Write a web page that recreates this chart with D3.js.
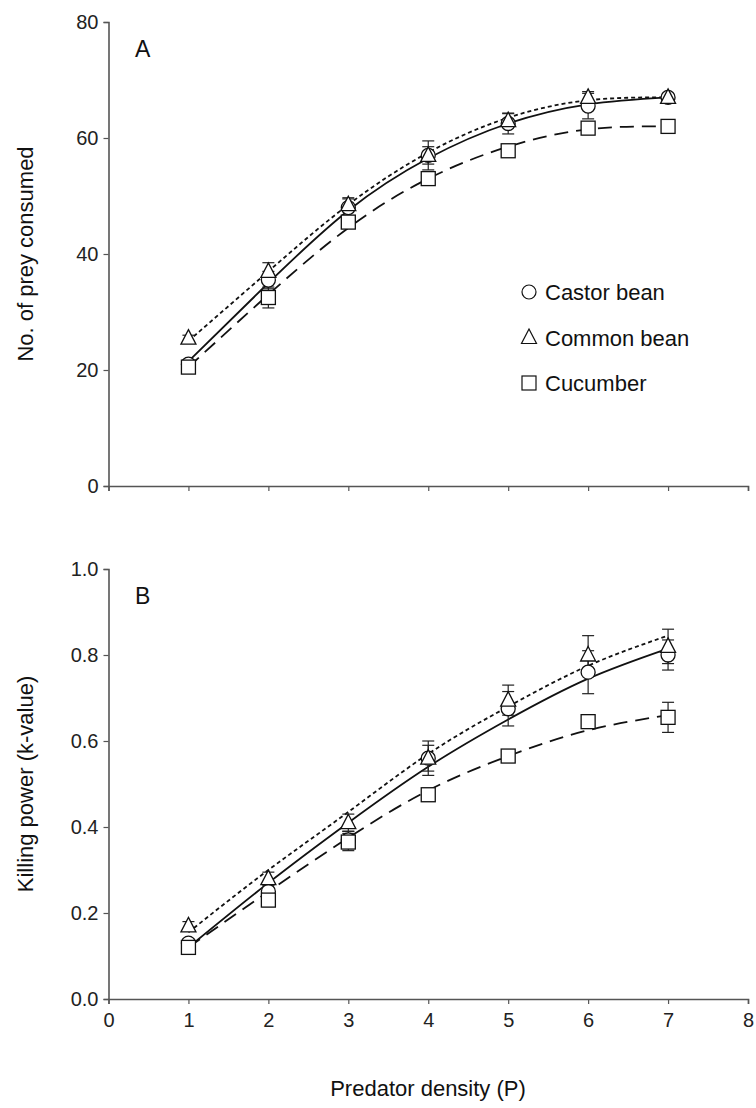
<!DOCTYPE html>
<html>
<head>
<meta charset="utf-8">
<script src="https://cdn.jsdelivr.net/npm/d3@7"></script>
<style>
  body { margin: 0; background: #fff; }
  svg { font-family: "Liberation Sans", Arial, sans-serif; }
</style>
</head>
<body>
<div class="chart"></div>
<script>
// ======================================
// Data
// ======================================
var densities = [1, 2, 3, 4, 5, 6, 7];
var xTicks = [0, 1, 2, 3, 4, 5, 6, 7, 8];
var seriesNames = ['Castor bean', 'Common bean', 'Cucumber'];

// Panel A: number of prey consumed
var preyCastor   = [21, 35.5, 48, 57, 62.5, 65.5, 67];
var preyCommon   = [25.5, 37, 48.5, 57, 63, 67, 67];
var preyCucumber = [20.5, 32.5, 45.5, 53, 57.8, 61.7, 62];
var preyCastorSE   = [0.8, 1.5, 1.5, 2.5, 1.8, 2.2, 0.5];
var preyCommonSE   = [0.5, 1.5, 1.2, 1.5, 1.2, 1.0, 0.5];
var preyCucumberSE = [0.8, 1.8, 1.0, 1.0, 0.8, 0.8, 0.5];
// fitted curves, panel A
var preyFitCastor   = [21.5, 35, 47.5, 56.5, 62.5, 65.8, 67];
var preyFitCommon   = [25, 37, 48.5, 57.5, 63.5, 66.5, 67];
var preyFitCucumber = [20.5, 33, 44.5, 53, 58.5, 61.5, 62];
var preyTicks = [0, 20, 40, 60, 80];

// Panel B: killing power (k-value)
var kCastor   = [0.13, 0.25, 0.37, 0.56, 0.675, 0.76, 0.80];
var kCommon   = [0.17, 0.28, 0.41, 0.56, 0.695, 0.80, 0.82];
var kCucumber = [0.12, 0.23, 0.365, 0.475, 0.565, 0.645, 0.655];
var kCastorSE   = [0.01, 0.015, 0.02, 0.04, 0.04, 0.05, 0.035];
var kCommonSE   = [0.01, 0.015, 0.02, 0.03, 0.035, 0.045, 0.04];
var kCucumberSE = [0.01, 0.015, 0.02, 0.015, 0.01, 0.015, 0.035];
// fitted curves, panel B
var kFitCastor   = [0.12, 0.27, 0.41, 0.54, 0.65, 0.745, 0.815];
var kFitCommon   = [0.155, 0.30, 0.435, 0.57, 0.68, 0.775, 0.845];
var kFitCucumber = [0.12, 0.25, 0.375, 0.485, 0.565, 0.625, 0.66];
var kTicks = [0, 0.2, 0.4, 0.6, 0.8, 1.0];

// ======================================
// Svg setup
// ======================================
var W = 756, H = 1108;
var svg = d3.select('.chart').append('svg')
   .attr('width', W)
   .attr('height', H);

var x = d3.scaleLinear().domain([0, 8]).range([108.5, 748]);
var yA = d3.scaleLinear().domain([0, 80]).range([486, 22]);
var yB = d3.scaleLinear().domain([0, 1]).range([999, 569]);

var shapes = ['circle', 'triangle', 'square'];
var dashes = [null, '4,3', '14,8'];
var axisColor = '#555';

function drawMarker(g, shape, cx, cy){
   if(shape === 'circle'){
      g.append('circle').attr('cx', cx).attr('cy', cy).attr('r', 7);
   } else if(shape === 'square'){
      g.append('rect').attr('x', cx - 7).attr('y', cy - 7).attr('width', 14).attr('height', 14);
   } else {
      g.append('path').attr('d', 'M' + cx + ',' + (cy - 8.5) + 'L' + (cx + 7.5) + ',' + (cy + 6) + 'L' + (cx - 7.5) + ',' + (cy + 6) + 'Z');
   }
}

function drawPanel(y, ticks, fmt, showXLabels, fits, values, errors, label){
   var g = svg.append('g');

   // axes
   var yAxis = d3.axisLeft(y).tickValues(ticks).tickFormat(fmt).tickSize(5).tickPadding(5);
   var gy = g.append('g').attr('transform', 'translate(' + x(0) + ',0)').call(yAxis);
   var xAxis = d3.axisBottom(x).tickValues(xTicks).tickSize(5).tickPadding(9)
      .tickFormat(showXLabels ? d3.format('d') : function(){ return ''; });
   var gx = g.append('g').attr('transform', 'translate(0,' + y(0) + ')').call(xAxis);
   [gx, gy].forEach(function(a){
      a.select('.domain').attr('stroke', axisColor).attr('stroke-width', 1.6);
      a.selectAll('.tick line').attr('stroke', axisColor).attr('stroke-width', 1.2);
      a.selectAll('.tick text').attr('fill', '#222').attr('font-size', '20px');
   });

   // fitted lines
   var line = d3.line().curve(d3.curveNatural)
      .x(function(d){ return x(d[0]); })
      .y(function(d){ return y(d[1]); });
   fits.forEach(function(f, i){
      g.append('path')
         .attr('d', line(densities.map(function(p, j){ return [p, f[j]]; })))
         .attr('fill', 'none')
         .attr('stroke', '#111')
         .attr('stroke-width', 1.8)
         .attr('stroke-dasharray', dashes[i]);
   });

   // error bars then markers
   values.forEach(function(v, i){
      var eb = g.append('g').attr('stroke', '#222').attr('stroke-width', 1.2);
      densities.forEach(function(p, j){
         var hi = y(v[j] + errors[i][j]), lo = y(v[j] - errors[i][j]);
         eb.append('line').attr('x1', x(p)).attr('x2', x(p)).attr('y1', hi).attr('y2', lo);
         eb.append('line').attr('x1', x(p) - 6).attr('x2', x(p) + 6).attr('y1', hi).attr('y2', hi);
         eb.append('line').attr('x1', x(p) - 6).attr('x2', x(p) + 6).attr('y1', lo).attr('y2', lo);
      });
   });
   values.forEach(function(v, i){
      var mk = g.append('g').attr('fill', 'white')
         .attr('stroke', '#111').attr('stroke-width', 1.3);
      densities.forEach(function(p, j){ drawMarker(mk, shapes[i], x(p), y(v[j])); });
   });

   g.append('text').attr('x', 135).attr('y', y.range()[1] + 35)
      .attr('font-size', '23px').attr('fill', '#111').text(label);
}

drawPanel(yA, preyTicks, d3.format('d'), false,
   [preyFitCastor, preyFitCommon, preyFitCucumber],
   [preyCastor, preyCommon, preyCucumber],
   [preyCastorSE, preyCommonSE, preyCucumberSE], 'A');

drawPanel(yB, kTicks, d3.format('.1f'), true,
   [kFitCastor, kFitCommon, kFitCucumber],
   [kCastor, kCommon, kCucumber],
   [kCastorSE, kCommonSE, kCucumberSE], 'B');

// ======================================
// Legend
// ======================================
var legend = svg.append('g');
seriesNames.forEach(function(name, i){
   var ly = 292 + i * 45.5;
   var mk = legend.append('g').attr('fill', 'white').attr('stroke', '#111').attr('stroke-width', 1.2);
   drawMarker(mk, shapes[i], 529, ly);
   legend.append('text').attr('x', 545).attr('y', ly + 8)
      .attr('font-size', '22px').attr('fill', '#111').text(name);
});

// ======================================
// Axis titles
// ======================================
svg.append('text').attr('transform', 'translate(33,254) rotate(-90)')
   .attr('text-anchor', 'middle').attr('font-size', '22px').attr('fill', '#111')
   .text('No. of prey consumed');
svg.append('text').attr('transform', 'translate(33,784) rotate(-90)')
   .attr('text-anchor', 'middle').attr('font-size', '22px').attr('fill', '#111')
   .text('Killing power (k-value)');
svg.append('text').attr('x', 428).attr('y', 1096)
   .attr('text-anchor', 'middle').attr('font-size', '22px').attr('fill', '#111')
   .text('Predator density (P)');
</script>
</body>
</html>
